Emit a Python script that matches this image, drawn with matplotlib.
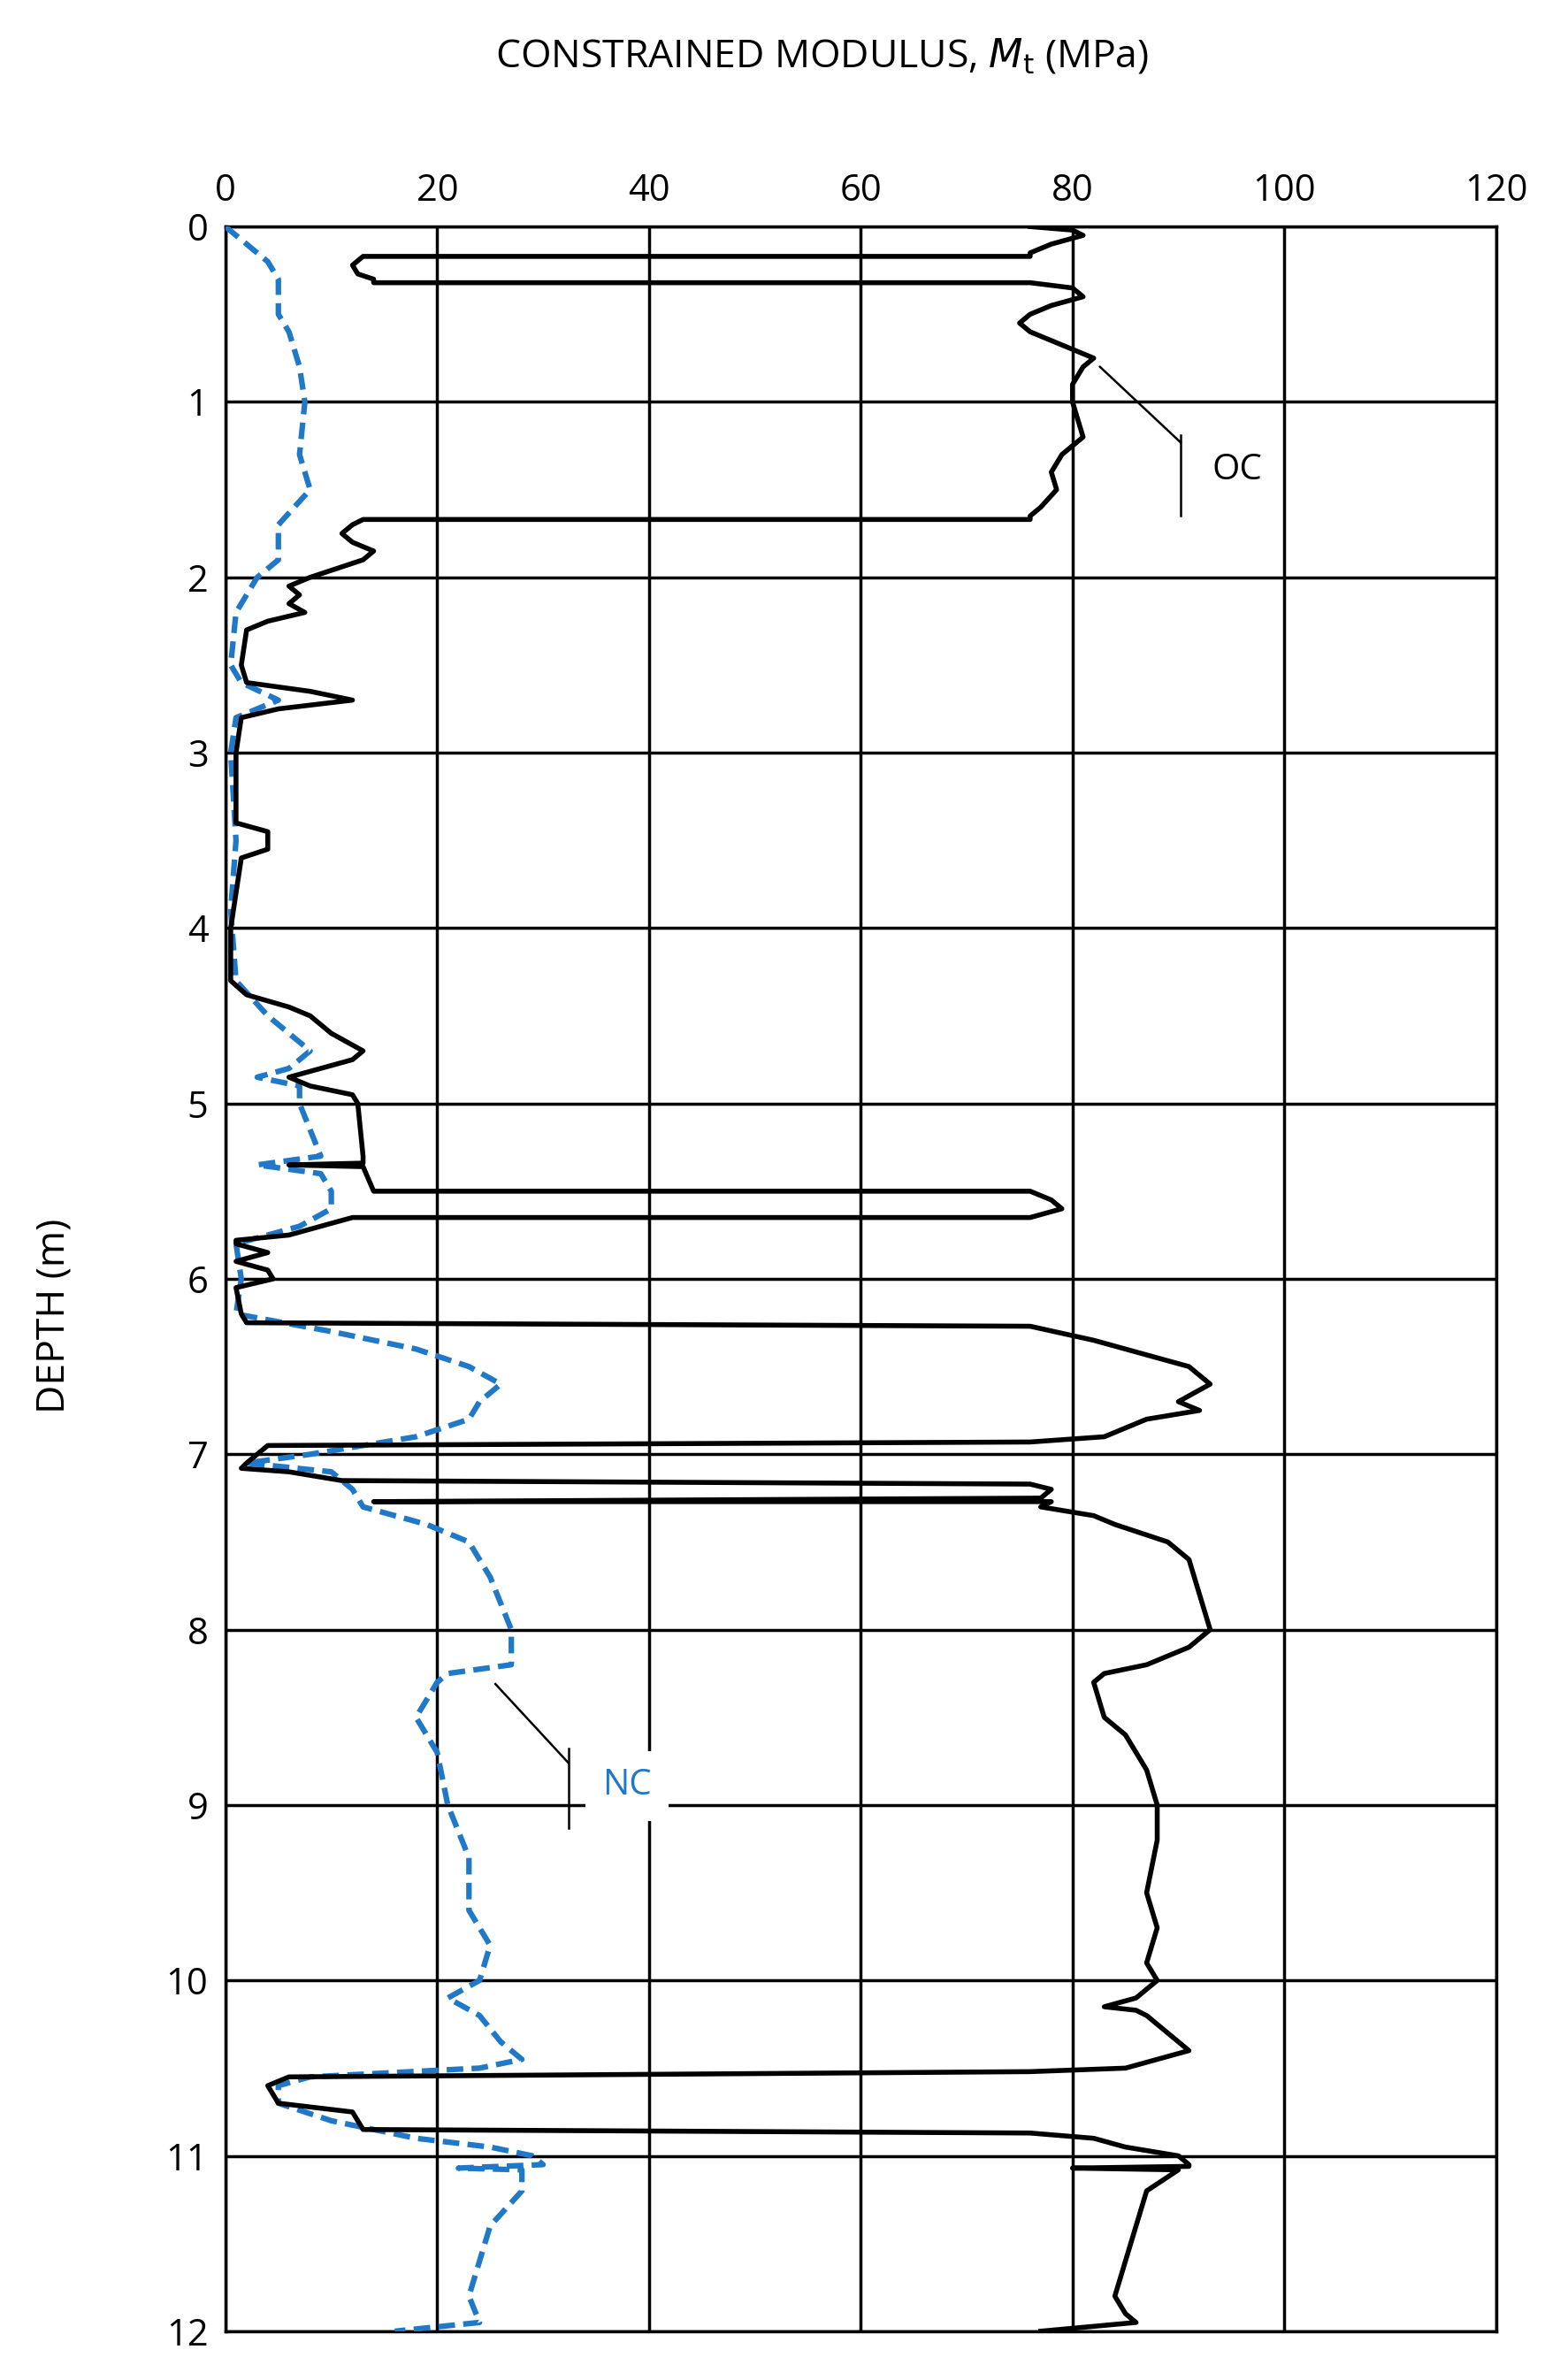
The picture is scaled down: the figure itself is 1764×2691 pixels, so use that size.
import matplotlib
matplotlib.use("Agg")
import matplotlib.pyplot as plt

plt.rcParams['font.family'] = ['Open Sans', 'DejaVu Sans']

oc_depth = [0,0.02,0.05,0.1,0.15,0.17,0.17,0.22,0.27,0.3,0.32,0.32,0.35,0.4,0.45,0.5,0.55,0.6,0.65,0.7,0.75,0.8,0.9,1.0,1.1,1.2,1.3,1.4,1.5,1.6,1.65,1.67,1.67,1.7,1.75,1.8,1.85,1.9,2.0,2.05,2.1,2.15,2.2,2.25,2.3,2.5,2.6,2.65,2.7,2.75,2.8,3.0,3.4,3.45,3.55,3.6,4.0,4.3,4.38,4.45,4.5,4.6,4.7,4.75,4.85,4.9,4.95,5.0,5.3,5.34,5.35,5.36,5.5,5.5,5.55,5.6,5.65,5.65,5.75,5.78,5.8,5.85,5.9,5.95,6.0,6.05,6.2,6.25,6.27,6.35,6.45,6.5,6.6,6.7,6.75,6.8,6.9,6.93,6.95,7.05,7.08,7.1,7.15,7.17,7.2,7.25,7.27,7.27,7.3,7.35,7.4,7.5,7.6,8.0,8.1,8.2,8.25,8.3,8.5,8.6,8.8,9.0,9.2,9.5,9.7,9.9,10.0,10.1,10.15,10.17,10.2,10.3,10.4,10.5,10.52,10.55,10.6,10.7,10.75,10.85,10.87,10.9,10.95,11.0,11.05,11.06,11.07,11.08,11.12,11.2,11.4,11.6,11.8,11.9,11.95,12.0]
oc_mod = [76,80,81,78,76,76,13,12,12.5,14,14,76,80,81,78,76,75,76,78,80,82,81,80,80,80.5,81,79,78,78.5,77,76,76,13,12,11,12,14,13,8,6,7,6,7.5,4,2,1.5,2,8,12,5,1.5,1,1,4,4,1.5,0.5,0.5,2,6,8,10,13,12,6,8,12,12.5,13,13,6,13,14,76,78,79,76,12,6,1,1,4,1,4,4.5,1,1.5,2,76,82,88,91,93,90,92,87,83,76,4,2,1.5,6,11,76,78,77,14,78,77,82,84,89,91,93,91,87,83,82,83,85,87,88,88,87,88,87,88,86,83,86,87,89,91,85,76,6,4,5,12,13,76,82,85,90,91,91,80,90,89,87,86,85,84,85,86,77]

nc_depth = [0,0.1,0.2,0.3,0.5,0.6,0.8,1.0,1.3,1.5,1.7,1.9,2.0,2.2,2.5,2.6,2.7,2.8,3.0,3.5,3.9,4.3,4.5,4.6,4.7,4.8,4.85,4.9,5.0,5.3,5.35,5.4,5.5,5.6,5.7,5.8,6.0,6.2,6.3,6.4,6.5,6.6,6.7,6.8,6.9,7.0,7.05,7.1,7.2,7.3,7.4,7.5,7.7,8.0,8.2,8.25,8.3,8.5,8.7,9.0,9.3,9.6,9.8,10.0,10.1,10.2,10.35,10.45,10.5,10.55,10.6,10.7,10.8,10.9,10.95,11.0,11.05,11.07,11.08,11.1,11.2,11.4,11.6,11.8,11.95,12.0]
nc_mod = [0,2,4,5,5,6,7,7.5,7,8,5,5,3,1,0.5,1.5,5,1,0.5,1,0.5,1,4,6,8,6,3,7,7,9,3,9,10,10,7,1,1.5,1,10,18,23,26,24,23,18,8,2,10,12,13,19,23,25,27,27,21,20,18,20,21,23,23,25,24,21,24,26,28,24,8,5,5,10,18,25,29,30,22,28,28,28,25,24,23,24,16]

xticks = [0,20,40,60,80,100,120]
yticks = list(range(13))

fig = plt.figure(figsize=(17.64,26.91), dpi=100)
ax = fig.add_axes([0.1445,0.0205,0.8145,0.8843])
ax.set_xlim(0,120); ax.set_ylim(12,0)
ax.set_xticks(xticks); ax.set_yticks(yticks)
ax.xaxis.tick_top()
ax.tick_params(length=0, labelsize=30, pad=14)
ax.grid(True, color='black', lw=2.5)
ax.set_axisbelow(True)
for s in ax.spines.values():
    s.set_linewidth(2.5)

ax.plot(nc_mod, nc_depth, color='#1f78c8', lw=4.5, ls=(0,(3,1.5)), zorder=3)
ax.plot(oc_mod, oc_depth, color='black', lw=4, zorder=4)

ax.plot([82.6,90.2],[0.8,1.23], color='black', lw=1.8, zorder=5)
ax.plot([90.2,90.2],[1.19,1.65], color='black', lw=1.8, zorder=5)
ax.text(93.2,1.39,'OC', fontsize=29, va='center', ha='left', zorder=6,
        bbox=dict(facecolor='white', edgecolor='none', pad=14))
ax.plot([25.5,32.4],[8.31,8.76], color='black', lw=1.8, zorder=5)
ax.plot([32.4,32.4],[8.68,9.13], color='black', lw=1.8, zorder=5)
ax.text(35.6,8.89,'NC', fontsize=29, va='center', ha='left', color='#1f78c8', zorder=6,
        bbox=dict(facecolor='white', edgecolor='none', pad=14))

fig.text(0.527,0.976,'CONSTRAINED MODULUS, $M_{\\mathrm{t}}$ (MPa)', fontsize=32, ha='center', va='center')
fig.text(0.035,0.447,'DEPTH (m)', fontsize=32, rotation=90, ha='center', va='center')

fig.savefig('out.png', dpi=100)
